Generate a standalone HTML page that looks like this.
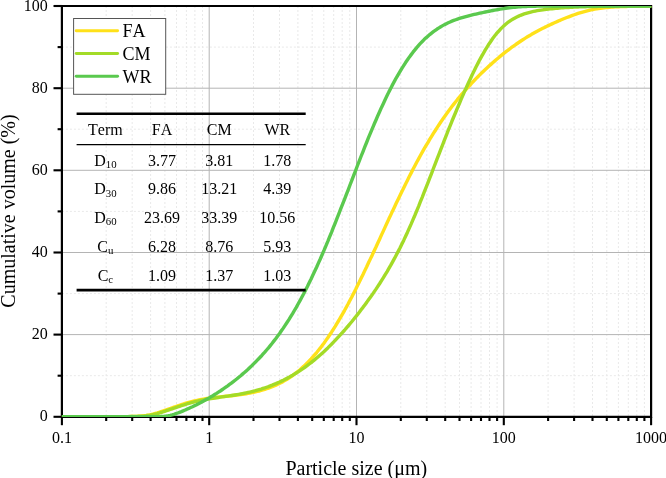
<!DOCTYPE html>
<html><head><meta charset="utf-8"><title>Particle size distribution</title>
<style>
html,body{margin:0;padding:0;background:#fff;}
svg{display:block;will-change:transform}
text{font-family:"Liberation Serif","Times New Roman",serif;fill:#000;font-kerning:none}
</style></head><body>
<svg width="666" height="478" viewBox="0 0 666 478">
<rect width="666" height="478" fill="#fff"/>
<defs><clipPath id="c"><rect x="61.9" y="6.0" width="589.4" height="411.0"/></clipPath></defs>

<g stroke="#e9e9e9" stroke-width="1" stroke-dasharray="2,2" fill="none">
<line x1="106.2" y1="6.0" x2="106.2" y2="416.8"/>
<line x1="132.2" y1="6.0" x2="132.2" y2="416.8"/>
<line x1="150.6" y1="6.0" x2="150.6" y2="416.8"/>
<line x1="164.9" y1="6.0" x2="164.9" y2="416.8"/>
<line x1="176.5" y1="6.0" x2="176.5" y2="416.8"/>
<line x1="186.4" y1="6.0" x2="186.4" y2="416.8"/>
<line x1="194.9" y1="6.0" x2="194.9" y2="416.8"/>
<line x1="202.5" y1="6.0" x2="202.5" y2="416.8"/>
<line x1="253.5" y1="6.0" x2="253.5" y2="416.8"/>
<line x1="279.5" y1="6.0" x2="279.5" y2="416.8"/>
<line x1="297.9" y1="6.0" x2="297.9" y2="416.8"/>
<line x1="312.2" y1="6.0" x2="312.2" y2="416.8"/>
<line x1="323.8" y1="6.0" x2="323.8" y2="416.8"/>
<line x1="333.7" y1="6.0" x2="333.7" y2="416.8"/>
<line x1="342.2" y1="6.0" x2="342.2" y2="416.8"/>
<line x1="349.8" y1="6.0" x2="349.8" y2="416.8"/>
<line x1="400.8" y1="6.0" x2="400.8" y2="416.8"/>
<line x1="426.8" y1="6.0" x2="426.8" y2="416.8"/>
<line x1="445.2" y1="6.0" x2="445.2" y2="416.8"/>
<line x1="459.5" y1="6.0" x2="459.5" y2="416.8"/>
<line x1="471.1" y1="6.0" x2="471.1" y2="416.8"/>
<line x1="481.0" y1="6.0" x2="481.0" y2="416.8"/>
<line x1="489.5" y1="6.0" x2="489.5" y2="416.8"/>
<line x1="497.1" y1="6.0" x2="497.1" y2="416.8"/>
<line x1="548.1" y1="6.0" x2="548.1" y2="416.8"/>
<line x1="574.1" y1="6.0" x2="574.1" y2="416.8"/>
<line x1="592.5" y1="6.0" x2="592.5" y2="416.8"/>
<line x1="606.8" y1="6.0" x2="606.8" y2="416.8"/>
<line x1="618.4" y1="6.0" x2="618.4" y2="416.8"/>
<line x1="628.3" y1="6.0" x2="628.3" y2="416.8"/>
<line x1="636.8" y1="6.0" x2="636.8" y2="416.8"/>
<line x1="644.4" y1="6.0" x2="644.4" y2="416.8"/>
<line x1="61.9" y1="375.7" x2="651.1" y2="375.7"/>
<line x1="61.9" y1="293.6" x2="651.1" y2="293.6"/>
<line x1="61.9" y1="211.4" x2="651.1" y2="211.4"/>
<line x1="61.9" y1="129.2" x2="651.1" y2="129.2"/>
<line x1="61.9" y1="47.1" x2="651.1" y2="47.1"/>
</g>
<g stroke="#b4b4b4" stroke-width="1" fill="none">
<line x1="209.2" y1="6.0" x2="209.2" y2="416.8"/>
<line x1="356.5" y1="6.0" x2="356.5" y2="416.8"/>
<line x1="503.8" y1="6.0" x2="503.8" y2="416.8"/>
<line x1="61.9" y1="334.6" x2="651.1" y2="334.6"/>
<line x1="61.9" y1="252.5" x2="651.1" y2="252.5"/>
<line x1="61.9" y1="170.3" x2="651.1" y2="170.3"/>
<line x1="61.9" y1="88.2" x2="651.1" y2="88.2"/>
</g>
<path d="M61.9,6.0 H651.1 V416.8 H61.9 Z" fill="none" stroke="#000" stroke-width="2.2"/>
<g stroke="#000" stroke-width="2.1" fill="none">
<line x1="61.9" y1="416.8" x2="61.9" y2="425.2"/>
<line x1="209.2" y1="416.8" x2="209.2" y2="425.2"/>
<line x1="356.5" y1="416.8" x2="356.5" y2="425.2"/>
<line x1="503.8" y1="416.8" x2="503.8" y2="425.2"/>
<line x1="651.1" y1="416.8" x2="651.1" y2="425.2"/>
<line x1="106.2" y1="416.8" x2="106.2" y2="421.0"/>
<line x1="132.2" y1="416.8" x2="132.2" y2="421.0"/>
<line x1="150.6" y1="416.8" x2="150.6" y2="421.0"/>
<line x1="164.9" y1="416.8" x2="164.9" y2="421.0"/>
<line x1="176.5" y1="416.8" x2="176.5" y2="421.0"/>
<line x1="186.4" y1="416.8" x2="186.4" y2="421.0"/>
<line x1="194.9" y1="416.8" x2="194.9" y2="421.0"/>
<line x1="202.5" y1="416.8" x2="202.5" y2="421.0"/>
<line x1="253.5" y1="416.8" x2="253.5" y2="421.0"/>
<line x1="279.5" y1="416.8" x2="279.5" y2="421.0"/>
<line x1="297.9" y1="416.8" x2="297.9" y2="421.0"/>
<line x1="312.2" y1="416.8" x2="312.2" y2="421.0"/>
<line x1="323.8" y1="416.8" x2="323.8" y2="421.0"/>
<line x1="333.7" y1="416.8" x2="333.7" y2="421.0"/>
<line x1="342.2" y1="416.8" x2="342.2" y2="421.0"/>
<line x1="349.8" y1="416.8" x2="349.8" y2="421.0"/>
<line x1="400.8" y1="416.8" x2="400.8" y2="421.0"/>
<line x1="426.8" y1="416.8" x2="426.8" y2="421.0"/>
<line x1="445.2" y1="416.8" x2="445.2" y2="421.0"/>
<line x1="459.5" y1="416.8" x2="459.5" y2="421.0"/>
<line x1="471.1" y1="416.8" x2="471.1" y2="421.0"/>
<line x1="481.0" y1="416.8" x2="481.0" y2="421.0"/>
<line x1="489.5" y1="416.8" x2="489.5" y2="421.0"/>
<line x1="497.1" y1="416.8" x2="497.1" y2="421.0"/>
<line x1="548.1" y1="416.8" x2="548.1" y2="421.0"/>
<line x1="574.1" y1="416.8" x2="574.1" y2="421.0"/>
<line x1="592.5" y1="416.8" x2="592.5" y2="421.0"/>
<line x1="606.8" y1="416.8" x2="606.8" y2="421.0"/>
<line x1="618.4" y1="416.8" x2="618.4" y2="421.0"/>
<line x1="628.3" y1="416.8" x2="628.3" y2="421.0"/>
<line x1="636.8" y1="416.8" x2="636.8" y2="421.0"/>
<line x1="644.4" y1="416.8" x2="644.4" y2="421.0"/>
<line x1="53.5" y1="416.8" x2="61.9" y2="416.8"/>
<line x1="53.5" y1="334.6" x2="61.9" y2="334.6"/>
<line x1="53.5" y1="252.5" x2="61.9" y2="252.5"/>
<line x1="53.5" y1="170.3" x2="61.9" y2="170.3"/>
<line x1="53.5" y1="88.2" x2="61.9" y2="88.2"/>
<line x1="53.5" y1="6.0" x2="61.9" y2="6.0"/>
<line x1="57.6" y1="375.7" x2="61.9" y2="375.7"/>
<line x1="57.6" y1="293.6" x2="61.9" y2="293.6"/>
<line x1="57.6" y1="211.4" x2="61.9" y2="211.4"/>
<line x1="57.6" y1="129.2" x2="61.9" y2="129.2"/>
<line x1="57.6" y1="47.1" x2="61.9" y2="47.1"/>
</g>
<g clip-path="url(#c)" fill="none" stroke-width="3.4" stroke-linejoin="round">
<path d="M60.9,416.73 L62.8,416.73 L64.6,416.73 L66.5,416.73 L68.3,416.73 L70.2,416.73 L72.0,416.73 L73.9,416.73 L75.7,416.73 L77.6,416.73 L79.4,416.73 L81.3,416.73 L83.1,416.73 L85.0,416.73 L86.8,416.73 L88.7,416.73 L90.6,416.73 L92.4,416.73 L94.3,416.73 L96.1,416.73 L98.0,416.73 L99.8,416.73 L101.7,416.72 L103.5,416.72 L105.4,416.72 L107.2,416.72 L109.1,416.72 L110.9,416.71 L112.8,416.71 L114.6,416.70 L116.5,416.70 L118.4,416.69 L120.2,416.68 L122.1,416.67 L123.9,416.66 L125.8,416.64 L127.6,416.62 L129.5,416.59 L131.3,416.56 L133.2,416.51 L135.0,416.45 L136.9,416.38 L138.7,416.28 L140.6,416.15 L142.4,415.99 L144.3,415.78 L146.2,415.53 L148.0,415.22 L149.9,414.85 L151.7,414.44 L153.6,413.97 L155.4,413.46 L157.3,412.91 L159.1,412.34 L161.0,411.73 L162.8,411.11 L164.7,410.47 L166.5,409.82 L168.4,409.17 L170.2,408.51 L172.1,407.85 L174.0,407.19 L175.8,406.54 L177.7,405.90 L179.5,405.28 L181.4,404.66 L183.2,404.07 L185.1,403.50 L186.9,402.95 L188.8,402.42 L190.6,401.91 L192.5,401.43 L194.3,400.98 L196.2,400.55 L198.0,400.15 L199.9,399.77 L201.8,399.41 L203.6,399.08 L205.5,398.77 L207.3,398.48 L209.2,398.21 L211.0,397.95 L212.9,397.72 L214.7,397.49 L216.6,397.27 L218.4,397.07 L220.3,396.87 L222.1,396.67 L224.0,396.48 L225.8,396.29 L227.7,396.10 L229.5,395.90 L231.4,395.70 L233.3,395.50 L235.1,395.28 L237.0,395.06 L238.8,394.82 L240.7,394.57 L242.5,394.30 L244.4,394.02 L246.2,393.72 L248.1,393.40 L249.9,393.06 L251.8,392.70 L253.6,392.31 L255.5,391.89 L257.3,391.45 L259.2,390.98 L261.1,390.47 L262.9,389.94 L264.8,389.37 L266.6,388.76 L268.5,388.12 L270.3,387.43 L272.2,386.71 L274.0,385.94 L275.9,385.13 L277.7,384.27 L279.6,383.36 L281.4,382.40 L283.3,381.39 L285.1,380.33 L287.0,379.21 L288.9,378.04 L290.7,376.80 L292.6,375.51 L294.4,374.15 L296.3,372.73 L298.1,371.25 L300.0,369.70 L301.8,368.08 L303.7,366.39 L305.5,364.63 L307.4,362.80 L309.2,360.90 L311.1,358.92 L312.9,356.87 L314.8,354.75 L316.7,352.54 L318.5,350.27 L320.4,347.92 L322.2,345.49 L324.1,342.98 L325.9,340.40 L327.8,337.74 L329.6,335.01 L331.5,332.20 L333.3,329.32 L335.2,326.37 L337.0,323.34 L338.9,320.25 L340.7,317.08 L342.6,313.85 L344.5,310.55 L346.3,307.19 L348.2,303.77 L350.0,300.29 L351.9,296.75 L353.7,293.16 L355.6,289.51 L357.4,285.82 L359.3,282.08 L361.1,278.30 L363.0,274.48 L364.8,270.63 L366.7,266.74 L368.5,262.82 L370.4,258.88 L372.3,254.92 L374.1,250.93 L376.0,246.94 L377.8,242.93 L379.7,238.91 L381.5,234.89 L383.4,230.87 L385.2,226.86 L387.1,222.85 L388.9,218.85 L390.8,214.87 L392.6,210.90 L394.5,206.96 L396.3,203.04 L398.2,199.15 L400.1,195.29 L401.9,191.46 L403.8,187.66 L405.6,183.91 L407.5,180.19 L409.3,176.52 L411.2,172.89 L413.0,169.31 L414.9,165.78 L416.7,162.30 L418.6,158.87 L420.4,155.50 L422.3,152.17 L424.1,148.91 L426.0,145.69 L427.9,142.54 L429.7,139.44 L431.6,136.39 L433.4,133.40 L435.3,130.47 L437.1,127.60 L439.0,124.78 L440.8,122.01 L442.7,119.30 L444.5,116.64 L446.4,114.04 L448.2,111.49 L450.1,108.98 L451.9,106.53 L453.8,104.13 L455.7,101.77 L457.5,99.46 L459.4,97.20 L461.2,94.97 L463.1,92.79 L464.9,90.65 L466.8,88.55 L468.6,86.49 L470.5,84.47 L472.3,82.48 L474.2,80.53 L476.0,78.61 L477.9,76.73 L479.7,74.87 L481.6,73.05 L483.5,71.26 L485.3,69.50 L487.2,67.76 L489.0,66.06 L490.9,64.38 L492.7,62.74 L494.6,61.11 L496.4,59.52 L498.3,57.95 L500.1,56.41 L502.0,54.90 L503.8,53.41 L505.7,51.95 L507.5,50.52 L509.4,49.11 L511.2,47.73 L513.1,46.38 L515.0,45.05 L516.8,43.75 L518.7,42.48 L520.5,41.24 L522.4,40.02 L524.2,38.83 L526.1,37.67 L527.9,36.53 L529.8,35.42 L531.6,34.34 L533.5,33.28 L535.3,32.24 L537.2,31.23 L539.0,30.24 L540.9,29.27 L542.8,28.33 L544.6,27.40 L546.5,26.49 L548.3,25.60 L550.2,24.73 L552.0,23.87 L553.9,23.02 L555.7,22.19 L557.6,21.38 L559.4,20.57 L561.3,19.79 L563.1,19.01 L565.0,18.25 L566.8,17.51 L568.7,16.79 L570.6,16.08 L572.4,15.40 L574.3,14.73 L576.1,14.09 L578.0,13.47 L579.8,12.88 L581.7,12.32 L583.5,11.78 L585.4,11.28 L587.2,10.80 L589.1,10.36 L590.9,9.94 L592.8,9.55 L594.6,9.20 L596.5,8.87 L598.4,8.57 L600.2,8.30 L602.1,8.05 L603.9,7.82 L605.8,7.62 L607.6,7.44 L609.5,7.28 L611.3,7.13 L613.2,7.00 L615.0,6.89 L616.9,6.79 L618.7,6.70 L620.6,6.62 L622.4,6.55 L624.3,6.48 L626.2,6.43 L628.0,6.38 L629.9,6.33 L631.7,6.30 L633.6,6.26 L635.4,6.23 L637.3,6.20 L639.1,6.18 L641.0,6.16 L642.8,6.14 L644.7,6.12 L646.5,6.11 L648.4,6.10 L650.2,6.08 L652.1,6.07" stroke="#FFE11A"/>
<path d="M60.9,416.68 L62.8,416.68 L64.6,416.68 L66.5,416.68 L68.3,416.68 L70.2,416.68 L72.0,416.68 L73.9,416.68 L75.7,416.68 L77.6,416.68 L79.4,416.68 L81.3,416.68 L83.1,416.68 L85.0,416.68 L86.8,416.68 L88.7,416.68 L90.6,416.68 L92.4,416.68 L94.3,416.68 L96.1,416.68 L98.0,416.68 L99.8,416.68 L101.7,416.68 L103.5,416.68 L105.4,416.67 L107.2,416.67 L109.1,416.67 L110.9,416.67 L112.8,416.66 L114.6,416.66 L116.5,416.65 L118.4,416.65 L120.2,416.64 L122.1,416.63 L123.9,416.62 L125.8,416.60 L127.6,416.58 L129.5,416.56 L131.3,416.53 L133.2,416.49 L135.0,416.44 L136.9,416.38 L138.7,416.31 L140.6,416.21 L142.4,416.08 L144.3,415.93 L146.2,415.73 L148.0,415.49 L149.9,415.21 L151.7,414.87 L153.6,414.48 L155.4,414.05 L157.3,413.57 L159.1,413.05 L161.0,412.51 L162.8,411.93 L164.7,411.34 L166.5,410.73 L168.4,410.10 L170.2,409.47 L172.1,408.83 L174.0,408.19 L175.8,407.55 L177.7,406.92 L179.5,406.30 L181.4,405.69 L183.2,405.09 L185.1,404.51 L186.9,403.95 L188.8,403.41 L190.6,402.89 L192.5,402.39 L194.3,401.92 L196.2,401.46 L198.0,401.03 L199.9,400.63 L201.8,400.24 L203.6,399.87 L205.5,399.52 L207.3,399.19 L209.2,398.87 L211.0,398.57 L212.9,398.28 L214.7,397.99 L216.6,397.72 L218.4,397.45 L220.3,397.18 L222.1,396.92 L224.0,396.65 L225.8,396.39 L227.7,396.11 L229.5,395.84 L231.4,395.55 L233.3,395.26 L235.1,394.96 L237.0,394.65 L238.8,394.32 L240.7,393.98 L242.5,393.62 L244.4,393.25 L246.2,392.87 L248.1,392.46 L249.9,392.04 L251.8,391.59 L253.6,391.13 L255.5,390.64 L257.3,390.13 L259.2,389.60 L261.1,389.05 L262.9,388.47 L264.8,387.86 L266.6,387.23 L268.5,386.57 L270.3,385.89 L272.2,385.17 L274.0,384.43 L275.9,383.66 L277.7,382.85 L279.6,382.02 L281.4,381.15 L283.3,380.25 L285.1,379.32 L287.0,378.36 L288.9,377.36 L290.7,376.33 L292.6,375.26 L294.4,374.15 L296.3,373.02 L298.1,371.84 L300.0,370.63 L301.8,369.38 L303.7,368.09 L305.5,366.76 L307.4,365.40 L309.2,364.00 L311.1,362.56 L312.9,361.09 L314.8,359.57 L316.7,358.02 L318.5,356.42 L320.4,354.79 L322.2,353.13 L324.1,351.42 L325.9,349.68 L327.8,347.90 L329.6,346.08 L331.5,344.22 L333.3,342.33 L335.2,340.41 L337.0,338.44 L338.9,336.44 L340.7,334.41 L342.6,332.34 L344.5,330.24 L346.3,328.11 L348.2,325.94 L350.0,323.74 L351.9,321.50 L353.7,319.23 L355.6,316.93 L357.4,314.59 L359.3,312.22 L361.1,309.81 L363.0,307.37 L364.8,304.89 L366.7,302.37 L368.5,299.82 L370.4,297.22 L372.3,294.58 L374.1,291.89 L376.0,289.15 L377.8,286.37 L379.7,283.52 L381.5,280.63 L383.4,277.67 L385.2,274.64 L387.1,271.55 L388.9,268.39 L390.8,265.15 L392.6,261.83 L394.5,258.44 L396.3,254.96 L398.2,251.39 L400.1,247.73 L401.9,243.98 L403.8,240.14 L405.6,236.21 L407.5,232.19 L409.3,228.08 L411.2,223.88 L413.0,219.60 L414.9,215.24 L416.7,210.80 L418.6,206.29 L420.4,201.72 L422.3,197.09 L424.1,192.41 L426.0,187.68 L427.9,182.92 L429.7,178.14 L431.6,173.33 L433.4,168.52 L435.3,163.70 L437.1,158.89 L439.0,154.09 L440.8,149.31 L442.7,144.55 L444.5,139.82 L446.4,135.13 L448.2,130.47 L450.1,125.86 L451.9,121.28 L453.8,116.76 L455.7,112.28 L457.5,107.85 L459.4,103.47 L461.2,99.15 L463.1,94.89 L464.9,90.69 L466.8,86.55 L468.6,82.48 L470.5,78.48 L472.3,74.57 L474.2,70.74 L476.0,67.00 L477.9,63.35 L479.7,59.82 L481.6,56.39 L483.5,53.09 L485.3,49.91 L487.2,46.86 L489.0,43.95 L490.9,41.18 L492.7,38.56 L494.6,36.08 L496.4,33.74 L498.3,31.56 L500.1,29.51 L502.0,27.62 L503.8,25.86 L505.7,24.23 L507.5,22.73 L509.4,21.36 L511.2,20.10 L513.1,18.95 L515.0,17.90 L516.8,16.94 L518.7,16.08 L520.5,15.29 L522.4,14.57 L524.2,13.92 L526.1,13.32 L527.9,12.78 L529.8,12.29 L531.6,11.84 L533.5,11.43 L535.3,11.05 L537.2,10.70 L539.0,10.38 L540.9,10.08 L542.8,9.81 L544.6,9.55 L546.5,9.31 L548.3,9.09 L550.2,8.89 L552.0,8.69 L553.9,8.51 L555.7,8.34 L557.6,8.19 L559.4,8.04 L561.3,7.90 L563.1,7.77 L565.0,7.65 L566.8,7.53 L568.7,7.43 L570.6,7.33 L572.4,7.23 L574.3,7.14 L576.1,7.06 L578.0,6.98 L579.8,6.91 L581.7,6.85 L583.5,6.78 L585.4,6.72 L587.2,6.67 L589.1,6.62 L590.9,6.57 L592.8,6.53 L594.6,6.49 L596.5,6.45 L598.4,6.41 L600.2,6.38 L602.1,6.35 L603.9,6.32 L605.8,6.30 L607.6,6.27 L609.5,6.25 L611.3,6.23 L613.2,6.21 L615.0,6.19 L616.9,6.18 L618.7,6.16 L620.6,6.15 L622.4,6.14 L624.3,6.12 L626.2,6.11 L628.0,6.10 L629.9,6.09 L631.7,6.09 L633.6,6.08 L635.4,6.07 L637.3,6.06 L639.1,6.06 L641.0,6.05 L642.8,6.05 L644.7,6.04 L646.5,6.04 L648.4,6.04 L650.2,6.03 L652.1,6.03" stroke="#A3DB27"/>
<path d="M60.9,416.80 L62.8,416.80 L64.6,416.80 L66.5,416.80 L68.3,416.80 L70.2,416.80 L72.0,416.80 L73.9,416.80 L75.7,416.80 L77.6,416.80 L79.4,416.80 L81.3,416.80 L83.1,416.80 L85.0,416.80 L86.8,416.80 L88.7,416.80 L90.6,416.80 L92.4,416.80 L94.3,416.80 L96.1,416.80 L98.0,416.80 L99.8,416.80 L101.7,416.80 L103.5,416.80 L105.4,416.80 L107.2,416.80 L109.1,416.80 L110.9,416.80 L112.8,416.80 L114.6,416.80 L116.5,416.80 L118.4,416.80 L120.2,416.80 L122.1,416.80 L123.9,416.80 L125.8,416.80 L127.6,416.80 L129.5,416.80 L131.3,416.80 L133.2,416.80 L135.0,416.80 L136.9,416.80 L138.7,416.80 L140.6,416.80 L142.4,416.79 L144.3,416.79 L146.2,416.79 L148.0,416.78 L149.9,416.78 L151.7,416.77 L153.6,416.75 L155.4,416.73 L157.3,416.69 L159.1,416.64 L161.0,416.56 L162.8,416.44 L164.7,416.27 L166.5,416.03 L168.4,415.72 L170.2,415.32 L172.1,414.83 L174.0,414.28 L175.8,413.67 L177.7,413.01 L179.5,412.31 L181.4,411.58 L183.2,410.83 L185.1,410.05 L186.9,409.25 L188.8,408.43 L190.6,407.58 L192.5,406.72 L194.3,405.83 L196.2,404.92 L198.0,403.98 L199.9,403.03 L201.8,402.05 L203.6,401.05 L205.5,400.03 L207.3,398.98 L209.2,397.91 L211.0,396.82 L212.9,395.70 L214.7,394.55 L216.6,393.39 L218.4,392.19 L220.3,390.98 L222.1,389.73 L224.0,388.46 L225.8,387.16 L227.7,385.84 L229.5,384.48 L231.4,383.10 L233.3,381.69 L235.1,380.24 L237.0,378.77 L238.8,377.26 L240.7,375.72 L242.5,374.15 L244.4,372.54 L246.2,370.89 L248.1,369.21 L249.9,367.49 L251.8,365.73 L253.6,363.92 L255.5,362.08 L257.3,360.18 L259.2,358.25 L261.1,356.26 L262.9,354.23 L264.8,352.15 L266.6,350.01 L268.5,347.82 L270.3,345.57 L272.2,343.27 L274.0,340.90 L275.9,338.48 L277.7,335.99 L279.6,333.44 L281.4,330.82 L283.3,328.13 L285.1,325.38 L287.0,322.55 L288.9,319.65 L290.7,316.68 L292.6,313.63 L294.4,310.51 L296.3,307.31 L298.1,304.03 L300.0,300.68 L301.8,297.25 L303.7,293.74 L305.5,290.15 L307.4,286.49 L309.2,282.74 L311.1,278.92 L312.9,275.03 L314.8,271.06 L316.7,267.01 L318.5,262.90 L320.4,258.72 L322.2,254.47 L324.1,250.15 L325.9,245.78 L327.8,241.34 L329.6,236.85 L331.5,232.31 L333.3,227.72 L335.2,223.08 L337.0,218.41 L338.9,213.70 L340.7,208.96 L342.6,204.19 L344.5,199.41 L346.3,194.60 L348.2,189.79 L350.0,184.97 L351.9,180.15 L353.7,175.34 L355.6,170.53 L357.4,165.75 L359.3,160.98 L361.1,156.25 L363.0,151.54 L364.8,146.88 L366.7,142.25 L368.5,137.68 L370.4,133.16 L372.3,128.70 L374.1,124.30 L376.0,119.97 L377.8,115.71 L379.7,111.52 L381.5,107.42 L383.4,103.40 L385.2,99.46 L387.1,95.62 L388.9,91.86 L390.8,88.20 L392.6,84.64 L394.5,81.18 L396.3,77.82 L398.2,74.56 L400.1,71.40 L401.9,68.34 L403.8,65.39 L405.6,62.54 L407.5,59.79 L409.3,57.15 L411.2,54.61 L413.0,52.18 L414.9,49.84 L416.7,47.60 L418.6,45.47 L420.4,43.42 L422.3,41.48 L424.1,39.62 L426.0,37.86 L427.9,36.18 L429.7,34.59 L431.6,33.08 L433.4,31.65 L435.3,30.30 L437.1,29.03 L439.0,27.83 L440.8,26.69 L442.7,25.63 L444.5,24.62 L446.4,23.68 L448.2,22.79 L450.1,21.96 L451.9,21.17 L453.8,20.44 L455.7,19.74 L457.5,19.09 L459.4,18.47 L461.2,17.89 L463.1,17.33 L464.9,16.80 L466.8,16.30 L468.6,15.82 L470.5,15.35 L472.3,14.90 L474.2,14.46 L476.0,14.03 L477.9,13.61 L479.7,13.20 L481.6,12.80 L483.5,12.40 L485.3,12.01 L487.2,11.62 L489.0,11.24 L490.9,10.87 L492.7,10.50 L494.6,10.15 L496.4,9.81 L498.3,9.47 L500.1,9.15 L502.0,8.85 L503.8,8.56 L505.7,8.29 L507.5,8.04 L509.4,7.80 L511.2,7.59 L513.1,7.39 L515.0,7.21 L516.8,7.05 L518.7,6.90 L520.5,6.77 L522.4,6.66 L524.2,6.56 L526.1,6.47 L527.9,6.40 L529.8,6.34 L531.6,6.28 L533.5,6.24 L535.3,6.20 L537.2,6.16 L539.0,6.14 L540.9,6.11 L542.8,6.10 L544.6,6.08 L546.5,6.07 L548.3,6.06 L550.2,6.05 L552.0,6.04 L553.9,6.04 L555.7,6.03 L557.6,6.03 L559.4,6.02 L561.3,6.02 L563.1,6.02 L565.0,6.02 L566.8,6.01 L568.7,6.01 L570.6,6.01 L572.4,6.01 L574.3,6.01 L576.1,6.01 L578.0,6.01 L579.8,6.01 L581.7,6.01 L583.5,6.01 L585.4,6.00 L587.2,6.00 L589.1,6.00 L590.9,6.00 L592.8,6.00 L594.6,6.00 L596.5,6.00 L598.4,6.00 L600.2,6.00 L602.1,6.00 L603.9,6.00 L605.8,6.00 L607.6,6.00 L609.5,6.00 L611.3,6.00 L613.2,6.00 L615.0,6.00 L616.9,6.00 L618.7,6.00 L620.6,6.00 L622.4,6.00 L624.3,6.00 L626.2,6.00 L628.0,6.00 L629.9,6.00 L631.7,6.00 L633.6,6.00 L635.4,6.00 L637.3,6.00 L639.1,6.00 L641.0,6.00 L642.8,6.00 L644.7,6.00 L646.5,6.00 L648.4,6.00 L650.2,6.00 L652.1,6.00" stroke="#5AC94E"/>
</g>
<g font-size="16px">
<text x="47.8" y="421.4" text-anchor="end">0</text>
<text x="47.8" y="339.2" text-anchor="end">20</text>
<text x="47.8" y="257.1" text-anchor="end">40</text>
<text x="47.8" y="174.9" text-anchor="end">60</text>
<text x="47.8" y="92.8" text-anchor="end">80</text>
<text x="47.8" y="10.6" text-anchor="end">100</text>
<text x="61.9" y="443" text-anchor="middle">0.1</text>
<text x="209.2" y="443" text-anchor="middle">1</text>
<text x="356.5" y="443" text-anchor="middle">10</text>
<text x="503.8" y="443" text-anchor="middle">100</text>
<text x="651.1" y="443" text-anchor="middle">1000</text>
</g>
<text x="356.3" y="474.6" text-anchor="middle" font-size="20px">Particle size (μm)</text>
<text transform="translate(14.5,211) rotate(-90)" text-anchor="middle" font-size="20px">Cumulative volume (%)</text>
<rect x="73.6" y="18.5" width="92.1" height="75.8" fill="#fff" stroke="#555" stroke-width="1"/>
<line x1="76.2" y1="30.8" x2="117.6" y2="30.8" stroke="#FFE11A" stroke-width="2.9" stroke-linecap="round"/>
<text x="122.6" y="37.0" font-size="18px">FA</text>
<line x1="76.2" y1="53.5" x2="117.6" y2="53.5" stroke="#A3DB27" stroke-width="2.9" stroke-linecap="round"/>
<text x="122.6" y="59.8" font-size="18px">CM</text>
<line x1="76.2" y1="76.3" x2="117.6" y2="76.3" stroke="#5AC94E" stroke-width="2.9" stroke-linecap="round"/>
<text x="122.6" y="82.5" font-size="18px">WR</text>
<g stroke="#000" fill="none">
<line x1="76.6" y1="113.7" x2="305.7" y2="113.7" stroke-width="2.6"/>
<line x1="76.6" y1="144.6" x2="305.7" y2="144.6" stroke-width="1.3"/>
<line x1="76.6" y1="290.1" x2="305.7" y2="290.1" stroke-width="2.6"/>
</g>
<g font-size="16px" text-anchor="middle">
<text x="105.4" y="134.7">Term</text>
<text x="162" y="134.7">FA</text>
<text x="219.3" y="134.7">CM</text>
<text x="277.3" y="134.7">WR</text>
<text x="105.4" y="165.6">D<tspan font-size="10.8px" dy="2.7">10</tspan></text>
<text x="162" y="165.6">3.77</text>
<text x="219.3" y="165.6">3.81</text>
<text x="277.3" y="165.6">1.78</text>
<text x="105.4" y="194.2">D<tspan font-size="10.8px" dy="2.7">30</tspan></text>
<text x="162" y="194.2">9.86</text>
<text x="219.3" y="194.2">13.21</text>
<text x="277.3" y="194.2">4.39</text>
<text x="105.4" y="222.7">D<tspan font-size="10.8px" dy="2.7">60</tspan></text>
<text x="162" y="222.7">23.69</text>
<text x="219.3" y="222.7">33.39</text>
<text x="277.3" y="222.7">10.56</text>
<text x="105.4" y="251.5">C<tspan font-size="10.8px" dy="2.7">u</tspan></text>
<text x="162" y="251.5">6.28</text>
<text x="219.3" y="251.5">8.76</text>
<text x="277.3" y="251.5">5.93</text>
<text x="105.4" y="280.5">C<tspan font-size="10.8px" dy="2.7">c</tspan></text>
<text x="162" y="280.5">1.09</text>
<text x="219.3" y="280.5">1.37</text>
<text x="277.3" y="280.5">1.03</text>
</g>
</svg></body></html>
